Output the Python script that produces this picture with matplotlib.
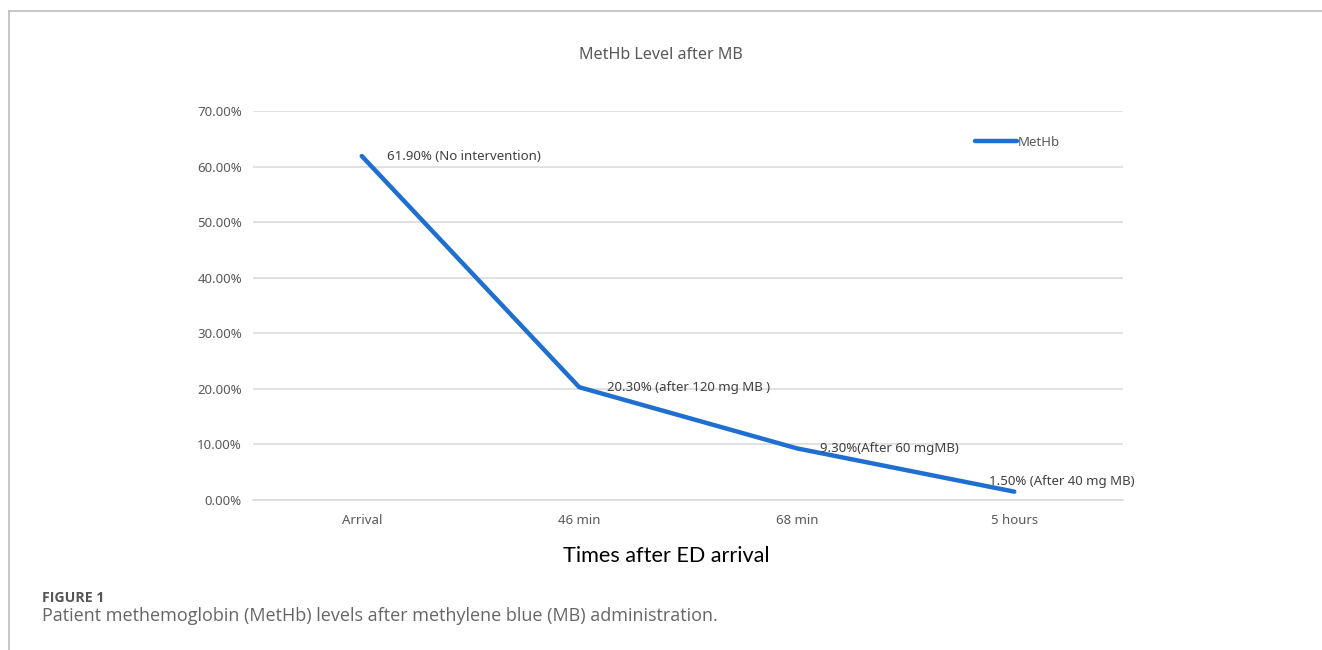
import matplotlib
matplotlib.use("Agg")
import matplotlib.pyplot as plt
from matplotlib.lines import Line2D
from matplotlib.ticker import FuncFormatter

categories = ["Arrival", "46 min", "68 min", "5 hours"]
methb = [61.9, 20.3, 9.3, 1.5]
point_labels = ["61.90% (No intervention)", "20.30% (after 120 mg MB )",
                "9.30%(After 60 mgMB)", "1.50% (After 40 mg MB)"]
yticks = [0, 10, 20, 30, 40, 50, 60, 70]

# label offsets in points (style only)
label_offsets = [(18, 0), (20, 0), (17, 0), (-18, 7)]

W, H = 1322, 650
fig = plt.figure(figsize=(W / 100, H / 100), dpi=100)
fig.patch.set_facecolor("white")

# frame lines (top and left)
fig.add_artist(Line2D([9 / W, 1], [1 - 11 / H, 1 - 11 / H], color="#bdbdbd", lw=1.2))
fig.add_artist(Line2D([9 / W, 9 / W], [0, 1 - 11 / H], color="#bdbdbd", lw=1.2))

left, right = 253 / W, 1123 / W
bottom, top = 1 - 500 / H, 1 - 111 / H
ax = fig.add_axes([left, bottom, right - left, top - bottom])
ax.set_xlim(-0.5, len(categories) - 0.5)
ax.set_ylim(0, 70)

x = list(range(len(categories)))
ax.plot(x, methb, color="#1f6fd0", lw=3.2, solid_capstyle="round", label="MetHb", zorder=3)

ax.set_yticks(yticks)
ax.yaxis.set_major_formatter(FuncFormatter(lambda v, p: f"{v:.2f}%"))
ax.set_xticks(x)
ax.set_xticklabels(categories)
ax.grid(axis="y", color="#d9d9d9", lw=1.1)
ax.set_axisbelow(True)
for s in ["top", "right", "left"]:
    ax.spines[s].set_visible(False)
ax.spines["bottom"].set_color("#d9d9d9")
ax.spines["bottom"].set_linewidth(1.1)
ax.tick_params(axis="both", length=0, labelsize=9.5, colors="#595959", pad=10)
ax.tick_params(axis="y", pad=8)
for lab in ax.get_xticklabels() + ax.get_yticklabels():
    lab.set_fontfamily("Noto Sans")

for xi, yi, txt, off in zip(x, methb, point_labels, label_offsets):
    ax.annotate(txt, (xi, yi), xytext=off, textcoords="offset points",
                ha="left", va="center",
                fontsize=9.5, color="#404040", family="Noto Sans")

leg = ax.legend(loc="upper right", bbox_to_anchor=(0.934, 0.95), frameon=False,
                prop={"family": "Noto Sans", "size": 9.5}, handlelength=3.2,
                handletextpad=0.1, borderaxespad=0)
for t in leg.get_texts():
    t.set_color("#595959")

fig.text(661 / W, 1 - 55 / H, "MetHb Level after MB", ha="center", va="center",
         fontsize=11.6, color="#595959", family="Noto Sans")
fig.text(666 / W, 1 - 556 / H, "Times after ED arrival", ha="center", va="center",
         fontsize=15.6, color="#000000", family="Lato")
fig.text(42 / W, 1 - 598 / H, "FIGURE 1", ha="left", va="center",
         fontsize=10.2, color="#555555", family="Open Sans", fontweight="bold")
fig.text(42 / W, 1 - 616 / H,
         "Patient methemoglobin (MetHb) levels after methylene blue (MB) administration.",
         ha="left", va="center", fontsize=13, color="#666666", family="Open Sans")

fig.savefig("out.png", dpi=100)
